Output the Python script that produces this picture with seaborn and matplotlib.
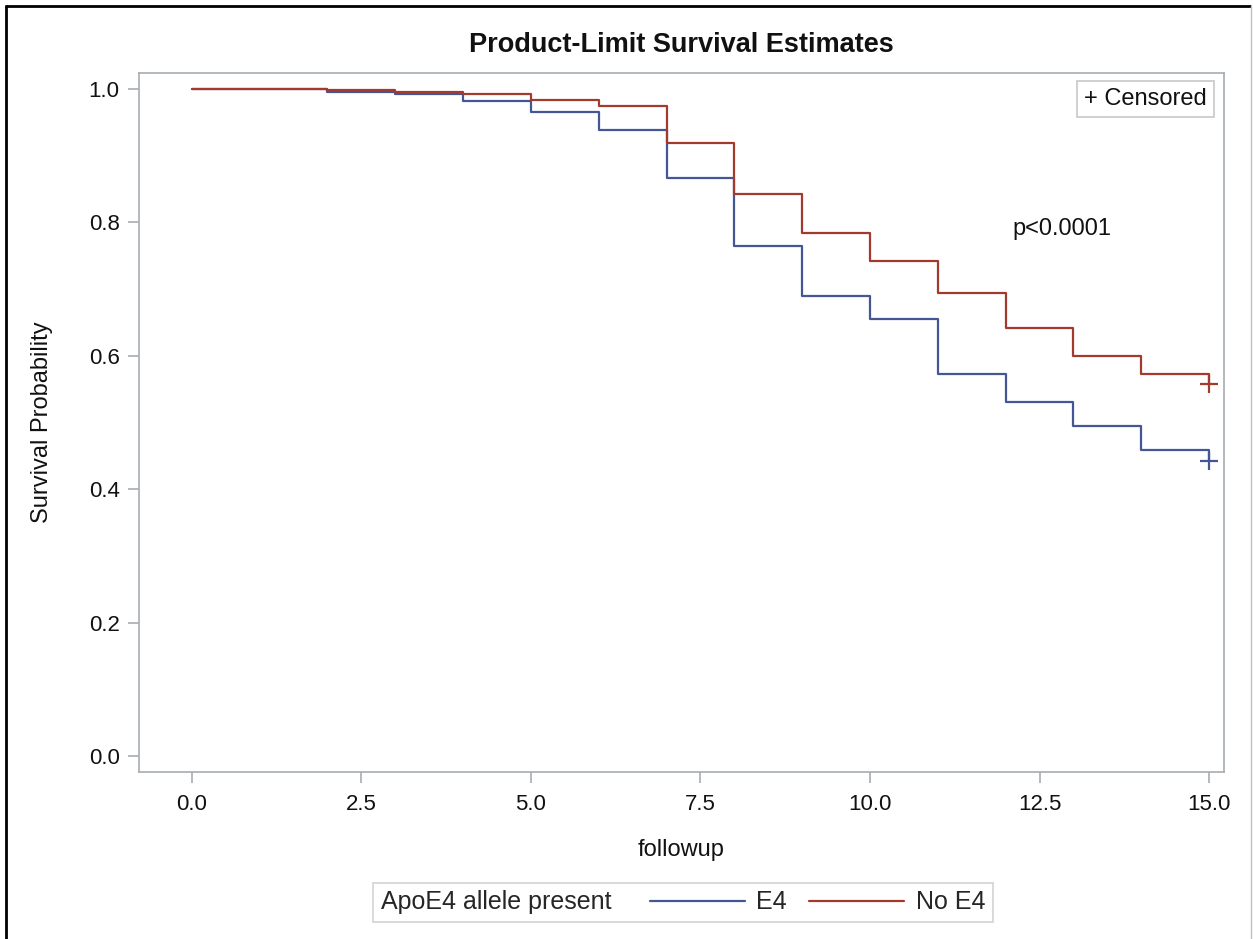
import matplotlib
matplotlib.use("Agg")
import matplotlib.pyplot as plt
from matplotlib.lines import Line2D
from matplotlib.offsetbox import HPacker
from matplotlib.ticker import FormatStrFormatter
import pandas as pd
import seaborn as sns

# Kaplan-Meier step values
followup = [0, 2, 3, 4, 5, 6, 7, 8, 9, 10, 11, 12, 13, 14, 15]
surv_e4 = [1.0, 0.995, 0.992, 0.982, 0.965, 0.939, 0.866, 0.764, 0.690, 0.655, 0.573, 0.530, 0.494, 0.459, 0.442]
surv_no_e4 = [1.0, 0.998, 0.996, 0.992, 0.983, 0.974, 0.919, 0.842, 0.784, 0.742, 0.694, 0.641, 0.600, 0.573, 0.558]
groups = ["E4", "No E4"]
censor_time = [15, 15]
censor_surv = [0.442, 0.558]
x_ticks = [0.0, 2.5, 5.0, 7.5, 10.0, 12.5, 15.0]
y_ticks = [0.0, 0.2, 0.4, 0.6, 0.8, 1.0]

palette = {"E4": "#445694", "No E4": "#A23A2E"}
frame_grey = "#a7adb3"

sns.set_theme(style="white")
plt.rcParams["font.family"] = ["Liberation Sans", "DejaVu Sans"]

curves = pd.concat(
    [
        pd.DataFrame({"followup": followup, "survival": surv_e4, "group": groups[0]}),
        pd.DataFrame({"followup": followup, "survival": surv_no_e4, "group": groups[1]}),
    ],
    ignore_index=True,
)
censored = pd.DataFrame({"followup": censor_time, "survival": censor_surv, "group": groups})

fig = plt.figure(figsize=(12.53, 9.39), dpi=100)
ax = fig.add_axes([0.1109, 0.1782, 0.8660, 0.7441])

sns.lineplot(
    data=curves, x="followup", y="survival", hue="group", hue_order=groups,
    palette=palette, drawstyle="steps-post", lw=1.6, estimator=None, ax=ax,
)
sns.scatterplot(
    data=censored, x="followup", y="survival", hue="group", hue_order=groups,
    palette=palette, marker="+", s=180, linewidth=1.6, legend=False, ax=ax, zorder=3,
)

ax.set_xlim(-0.78, 15.22)
ax.set_ylim(-0.0235, 1.024)
ax.set_xticks(x_ticks)
ax.set_yticks(y_ticks)
ax.xaxis.set_major_formatter(FormatStrFormatter("%.1f"))
ax.yaxis.set_major_formatter(FormatStrFormatter("%.1f"))
ax.tick_params(axis="both", direction="out", length=8, width=1.2, color=frame_grey,
               labelsize=16, labelcolor="#111111")
ax.tick_params(axis="x", pad=8, bottom=True)
ax.tick_params(axis="y", pad=6, left=True)
for spine in ax.spines.values():
    spine.set_color(frame_grey)
    spine.set_linewidth(1.2)

ax.set_xlabel("followup", fontsize=17, color="#111111")
ax.set_ylabel("Survival Probability", fontsize=17, color="#111111")
ax.xaxis.label.set_va("center")
ax.yaxis.label.set_va("center")
ax.xaxis.set_label_coords(0.5, -0.112)
ax.yaxis.set_label_coords(-0.0894, 0.5)

ax.text(12.1, 0.79, "p<0.0001", fontsize=17, ha="left", va="center", color="#111111")
ax.text(0.984, 0.978, "+ Censored", transform=ax.transAxes, fontsize=17, ha="right", va="top",
        color="#111111",
        bbox={"boxstyle": "square,pad=0.3", "fc": "white", "ec": "#c8c8c8", "lw": 1.2})

fig.text(0.544, 0.952, "Product-Limit Survival Estimates", fontsize=19.5, fontweight="bold",
         ha="center", va="center", color="#111111")

# group legend below the plot, title placed to the left of the entries
old = ax.get_legend()
handles = old.legend_handles
labels = [t.get_text() for t in old.get_texts()]
old.remove()
leg = fig.legend(
    handles, labels, ncol=2, title="ApoE4 allele present", loc="center",
    bbox_to_anchor=(0.545, 0.039), frameon=True, fancybox=False, edgecolor="#c8c8c8",
    fontsize=18, title_fontsize=18, handlelength=3.8, handletextpad=0.45,
    columnspacing=0.9, borderpad=0.3,
)
leg.get_frame().set_linewidth(1.2)
for line in leg.get_lines():
    line.set_linewidth(1.6)
fs = leg._fontsize
box = HPacker(pad=leg.borderpad * fs, sep=1.55 * fs, align="center",
              children=[leg._legend_title_box, leg._legend_handle_box])
box.set_figure(fig)
leg._legend_box = box
box.set_offset(leg._findoffset)

# outer page border
fig.add_artist(Line2D([0.005, 0.005], [0.0, 0.9936], transform=fig.transFigure, color="black", lw=2))
fig.add_artist(Line2D([0.005, 0.9975], [0.9936, 0.9936], transform=fig.transFigure, color="black", lw=2))
fig.add_artist(Line2D([0.9985, 0.9985], [0.0, 0.9936], transform=fig.transFigure, color="#c0c0c0", lw=1))

fig.savefig("out.png", dpi=100)
